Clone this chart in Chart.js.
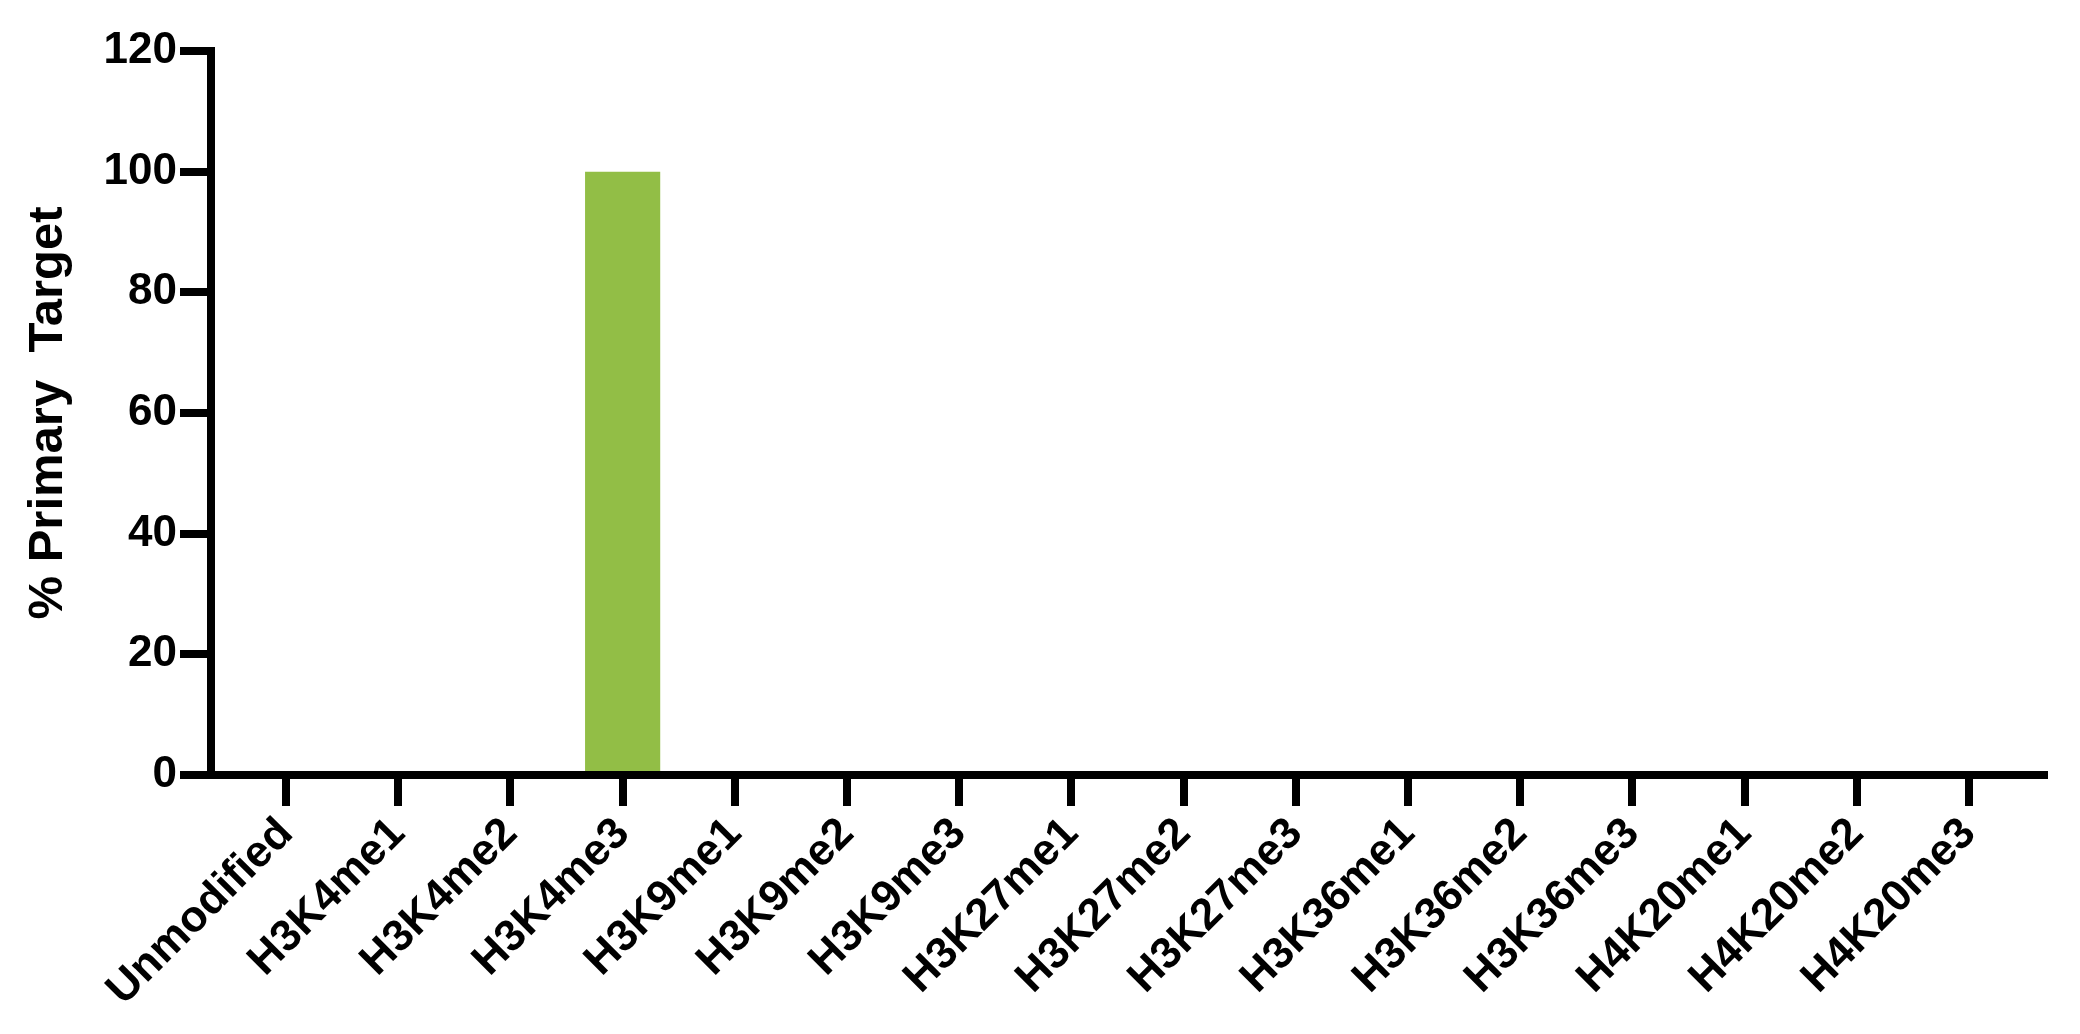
<!DOCTYPE html>
<html>
<head>
<meta charset="utf-8">
<title>% Primary Target</title>
<script src="https://cdn.jsdelivr.net/npm/chart.js@4.4.1/dist/chart.umd.min.js"></script>
<style>
  html, body { margin: 0; padding: 0; background: #ffffff; }
  #wrap { width: 2080px; height: 1034px; }
</style>
</head>
<body>
<div id="wrap"><canvas id="chart" width="2080" height="1034"></canvas></div>
<script>
// categories along the x axis
const targets = ["Unmodified", "H3K4me1", "H3K4me2", "H3K4me3", "H3K9me1", "H3K9me2",
  "H3K9me3", "H3K27me1", "H3K27me2", "H3K27me3", "H3K36me1", "H3K36me2",
  "H3K36me3", "H4K20me1", "H4K20me2", "H4K20me3"];
// % primary target for each category
const percentPrimary = [0, 0, 0, 100, 0, 0, 0, 0, 0, 0, 0, 0, 0, 0, 0, 0];
// y tick range
const yMin = 0;
const yMax = 120;
const yStep = 20;

document.addEventListener('DOMContentLoaded', () => {
  const ink = '#000000';
  const font = { family: '"Liberation Sans", Arial, sans-serif', weight: 'bold', size: 44 };

  // linear x axis so the outer gap can be wider than half a category
  const points = targets.map((t, i) => ({ x: i, y: percentPrimary[i] }));

  new Chart(document.getElementById('chart'), {
    type: 'bar',
    data: {
      datasets: [{
        data: points,
        backgroundColor: '#92be46',
        borderWidth: 0,
        barPercentage: 0.67,
        categoryPercentage: 1
      }]
    },
    options: {
      responsive: false,
      devicePixelRatio: 1,
      animation: false,
      layout: { padding: { top: 51, right: 36, bottom: 0, left: 0 } },
      plugins: { legend: { display: false }, tooltip: { enabled: false } },
      scales: {
        x: {
          type: 'linear',
          offset: false,
          min: -0.669,
          max: targets.length - 1 + 0.669,
          afterFit: scale => { scale.height = 259; },
          grid: { offset: false, drawOnChartArea: false, drawTicks: true, tickLength: 31, tickWidth: 8, tickColor: ink, lineWidth: 8 },
          border: { display: true, width: 8, color: ink },
          ticks: {
            stepSize: 1,
            includeBounds: false,
            autoSkip: false,
            maxRotation: 45,
            minRotation: 45,
            padding: 2,
            color: ink,
            font: font,
            callback: v => targets[v]
          }
        },
        y: {
          min: yMin,
          max: yMax,
          afterFit: scale => { scale.width = 211; },
          grid: { drawOnChartArea: false, drawTicks: true, tickLength: 31, tickWidth: 8, tickColor: ink, lineWidth: 8 },
          border: { display: true, width: 8, color: ink },
          ticks: { stepSize: yStep, padding: 3, color: ink, font: font },
          title: {
            display: true,
            text: '% Primary  Target',
            color: ink,
            font: { family: font.family, weight: 'bold', size: 49 },
            padding: { top: 19, bottom: 0 }
          }
        }
      }
    }
  });
});
</script>
</body>
</html>
